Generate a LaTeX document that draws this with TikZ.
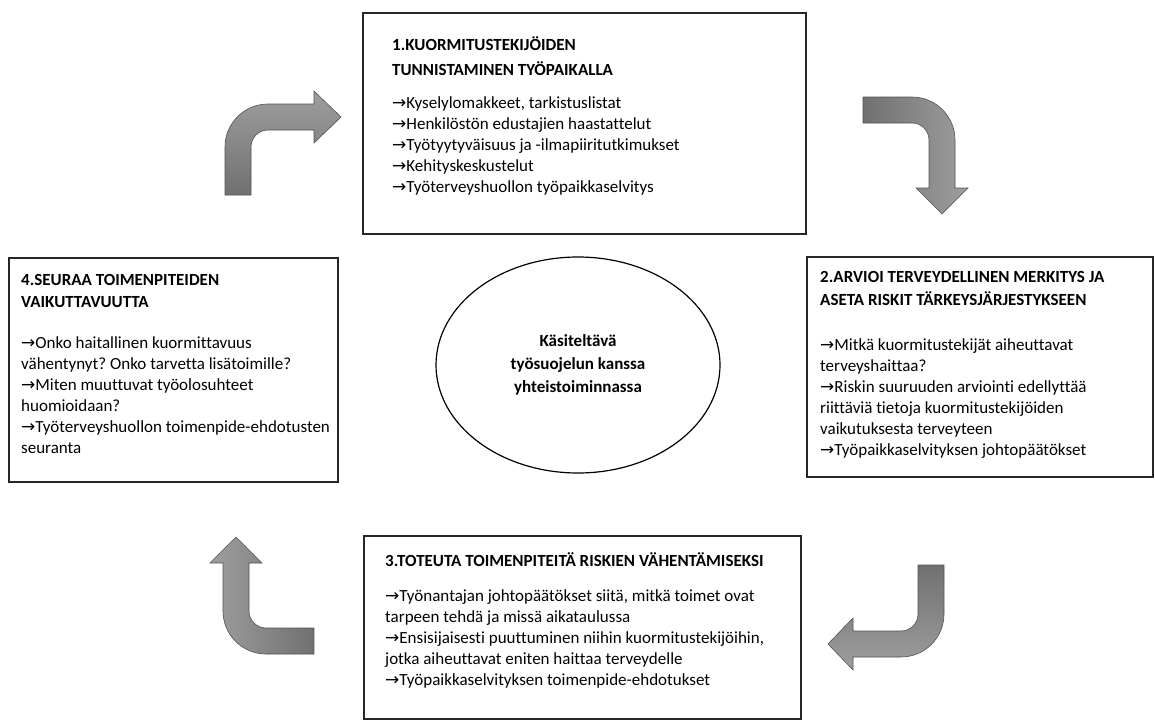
\documentclass[tikz,border=0pt]{standalone}
\usepackage{fontspec}
\setmainfont{Carlito}[Ligatures=NoCommon]
\newfontfamily\arrowfont{DejaVu Sans}
\usepackage{xcolor}
\usetikzlibrary{shapes.geometric,positioning}

\definecolor{arrowdark}{gray}{0.44}
\definecolor{arrowlight}{gray}{0.62}
\definecolor{arrowedge}{gray}{0.32}

\newcommand{\arr}{{\arrowfont →}}
\newcommand{\headfont}{\fontsize{17}{23}\selectfont\bfseries}
\newcommand{\bodyfont}{\fontsize{17}{21}\selectfont\mdseries}

\tikzset{
  stage/.style={draw=black!85, line width=1.6pt, anchor=north west, inner sep=0pt},
  stagetext/.style={anchor=base west, inner sep=0pt},
  hub/.style={draw, ellipse, line width=1.2pt, align=center,
    font=\fontsize{17}{23}\selectfont\bfseries},
  bentarrow/.style={draw=arrowedge, line width=0.6pt}
}

\begin{document}
\frenchspacing
\begin{tikzpicture}[x=1pt, y=-1pt]
    \useasboundingbox (0,0) rectangle (1155,720);

    % Stage boxes
    \node[stage, minimum width=443pt, minimum height=221pt] (box1) at (362,12) {};
    \node[stage, minimum width=346pt, minimum height=220pt] (box2) at (806,256) {};
    \node[stage, minimum width=437pt, minimum height=183pt] (box3) at (363,535) {};
    \node[stage, minimum width=329pt, minimum height=224pt] (box4) at (8,257) {};

    % Stage texts
    \node[stagetext] (text1) at (392,50) {\begin{minipage}[t]{600pt}\raggedright
        \headfont 1.KUORMITUSTEKIJÖIDEN\\[2pt]TUNNISTAMINEN TYÖPAIKALLA\par
        \vspace{12pt}\bodyfont
        \arr Kyselylomakkeet, tarkistuslistat\\
        \arr Henkilöstön edustajien haastattelut\\
        \arr Työtyytyväisuus ja -ilmapiiritutkimukset\\
        \arr Kehityskeskustelut\\
        \arr Työterveyshuollon työpaikkaselvitys
    \end{minipage}};

    \node[stagetext] (text2) at (820,282.5) {\begin{minipage}[t]{600pt}\raggedright
        \headfont 2.ARVIOI TERVEYDELLINEN MERKITYS JA\\ASETA RISKIT TÄRKEYSJÄRJESTYKSEEN\par
        \vspace{23.5pt}\bodyfont
        \arr Mitkä kuormitustekijät aiheuttavat\\
        terveyshaittaa?\\
        \arr Riskin suuruuden arviointi edellyttää\\
        riittäviä tietoja kuormitustekijöiden\\
        vaikutuksesta terveyteen\\
        \arr Työpaikkaselvityksen johtopäätökset
    \end{minipage}};

    \node[stagetext] (text3) at (385,566) {\begin{minipage}[t]{600pt}\raggedright
        \headfont 3.TOTEUTA TOIMENPITEITÄ RISKIEN VÄHENTÄMISEKSI\par
        \vspace{14pt}\bodyfont
        \arr Työnantajan johtopäätökset siitä, mitkä toimet ovat\\
        tarpeen tehdä ja missä aikataulussa\\
        \arr Ensisijaisesti puuttuminen niihin kuormitustekijöihin,\\
        jotka aiheuttavat eniten haittaa terveydelle\\
        \arr Työpaikkaselvityksen toimenpide-ehdotukset
    \end{minipage}};

    \node[stagetext] (text4) at (21,285.5) {\begin{minipage}[t]{600pt}\raggedright
        \headfont 4.SEURAA TOIMENPITEIDEN\\[-1pt]VAIKUTTAVUUTTA\par
        \vspace{19.5pt}\bodyfont
        \arr Onko haitallinen kuormittavuus\\
        vähentynyt? Onko tarvetta lisätoimille?\\
        \arr Miten muuttuvat työolosuhteet\\
        huomioidaan?\\
        \arr Työterveyshuollon toimenpide-ehdotusten\\
        seuranta
    \end{minipage}};

    % Centre
    \node[hub, minimum width=284pt, minimum height=216pt] (hub) at (578,365)
        {Käsiteltävä\\työsuojelun kanssa\\yhteistoiminnassa};

    % Bent arrows between the stages
    \shadedraw[bentarrow, top color=arrowlight, bottom color=arrowdark]
        (225,195) -- (225,147) arc[start angle=180, end angle=270, radius=43]
        -- (314,104) -- (314,91) -- (341,117) -- (314,143) -- (314,130)
        -- (268,130) arc[start angle=270, end angle=180, radius=17]
        -- (251,195) -- cycle;
    \shadedraw[bentarrow, left color=arrowdark, right color=arrowlight]
        (863,97) -- (912,97) arc[start angle=270, end angle=360, radius=43]
        -- (955,188) -- (968,188) -- (942,214) -- (916,188) -- (929,188)
        -- (929,140) arc[start angle=0, end angle=-90, radius=17]
        -- (863,123) -- cycle;
    \shadedraw[bentarrow, top color=arrowdark, bottom color=arrowlight]
        (944,565) -- (944,614) arc[start angle=0, end angle=90, radius=43]
        -- (853,657) -- (853,670) -- (828,644) -- (853,618) -- (853,631)
        -- (901,631) arc[start angle=90, end angle=0, radius=17]
        -- (918,565) -- cycle;
    \shadedraw[bentarrow, left color=arrowlight, right color=arrowdark]
        (314,654) -- (266,654) arc[start angle=90, end angle=180, radius=43]
        -- (223,563) -- (210,563) -- (236,537) -- (262,563) -- (249,563)
        -- (249,611) arc[start angle=180, end angle=90, radius=17]
        -- (314,628) -- cycle;
\end{tikzpicture}
\end{document}
